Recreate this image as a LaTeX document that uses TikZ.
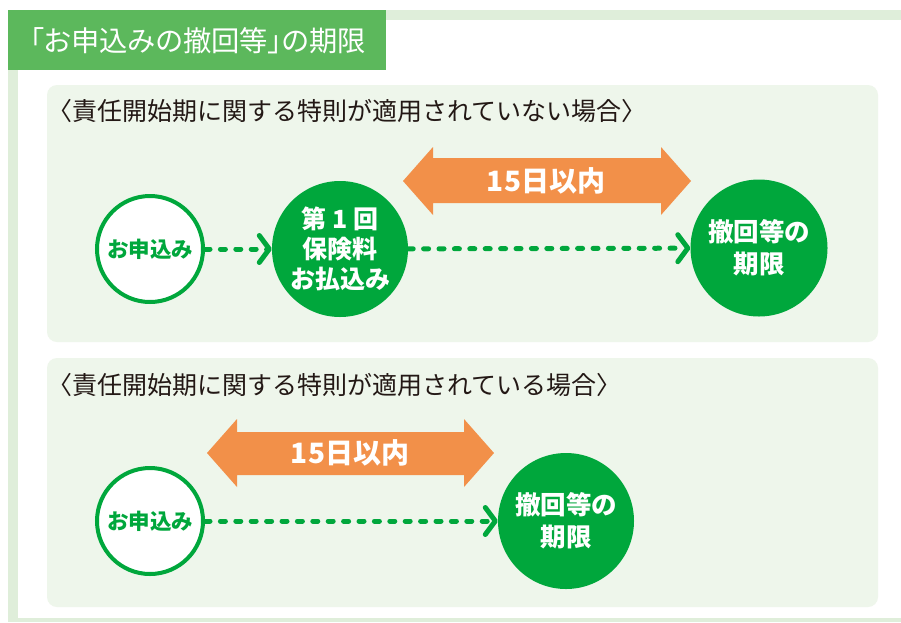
\documentclass[tikz,border=0pt]{standalone}
\usepackage{fontspec}
\setmainfont{Noto Sans CJK JP}
\newfontfamily\jptitle[RawFeature=+palt]{Noto Sans CJK JP}
\usetikzlibrary{arrows.meta}
\definecolor{titlegreen}{RGB}{92,184,92}
\definecolor{cgreen}{RGB}{0,167,60}
\definecolor{panelbg}{RGB}{238,246,235}
\definecolor{bandgreen}{RGB}{223,238,218}
\definecolor{orangeA}{RGB}{242,144,73}
\definecolor{ink}{RGB}{35,24,21}
\tikzset{
  panel/.style={fill=panelbg, rounded corners=10pt},
  header/.style={anchor=west, inner sep=0pt, text=ink, font=\fontsize{25}{28}\selectfont},
  opencirc/.style={circle, draw=cgreen, line width=4pt, fill=white, inner sep=0pt, minimum size=106pt,
    text=cgreen, font=\bfseries\fontsize{21.5}{24}\selectfont},
  fullcirc/.style={circle, fill=cgreen, inner sep=0pt, text=white, align=center},
  dotarrow/.style={draw=cgreen, line width=5pt, line cap=round, dash pattern=on 5pt off 10.4pt,
    -{Straight Barb[length=10pt, width=27pt, round]}},
  period/.style={fill=orangeA},
  periodtext/.style={text=white, inner sep=0pt, font=\bfseries\fontsize{28}{30}\selectfont}
}
\begin{document}
\begin{tikzpicture}[x=1pt,y=-1pt]
\useasboundingbox (0,0) rectangle (901,622);
\fill[white] (0,0) rectangle (901,622);
% frame bands
\fill[bandgreen] (386,10) rectangle (901,20);
\fill[bandgreen] (8,70) rectangle (18,622);
\fill[bandgreen] (8,618) rectangle (901,622);
% title
\fill[titlegreen] (8,10) rectangle (386,70);
\node[anchor=west, inner sep=0pt, text=white, font=\jptitle\fontsize{28.3}{30}\selectfont] (title) at (30,41) {「お申込みの撤回等」の期限};
% panels
\fill[panel] (47,85) rectangle (878,342);
\fill[panel] (47,358) rectangle (878,607);
% panel 1
\node[header] (h1) at (47,111) {〈責任開始期に関する特則が適用されていない場合〉};
\fill[period] (403,181) -- (433,147) -- (433,158) -- (661,158) -- (661,147) -- (691,181)
  -- (661,215) -- (661,203) -- (433,203) -- (433,215) -- cycle;
\node[periodtext] (p1) at (546,181) {1\kern1pt5日以内};
\node[opencirc] (a1) at (150,249) {お申込み};
\node[fullcirc, minimum size=136pt, font=\bfseries\fontsize{25}{30}\selectfont] (b1) at (340,249) {第 1 回\\保険料\\お払込み};
\node[fullcirc, minimum size=137pt, font=\bfseries\fontsize{25.5}{32}\selectfont] (c1) at (759,248) {撤回等の\\期限};
\draw[dotarrow] (a1) -- (b1);
\draw[dotarrow] (b1) -- (c1);
% panel 2
\node[header] (h2) at (47,385) {〈責任開始期に関する特則が適用されている場合〉};
\fill[period] (207,453) -- (237,419) -- (237,432) -- (464,432) -- (464,419) -- (494,453)
  -- (464,487) -- (464,475) -- (237,475) -- (237,487) -- cycle;
\node[periodtext] (p2) at (350,453) {1\kern1pt5日以内};
\node[opencirc] (a2) at (150,521) {お申込み};
\node[fullcirc, minimum size=136pt, font=\bfseries\fontsize{25.5}{32}\selectfont] (c2) at (566,521) {撤回等の\\期限};
\draw[dotarrow] (a2) -- (c2);
\end{tikzpicture}
\end{document}
